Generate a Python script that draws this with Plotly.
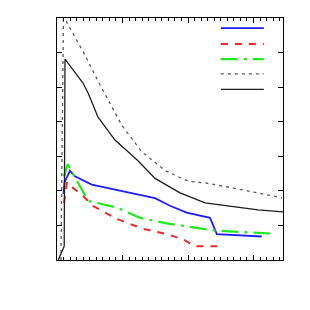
import plotly.graph_objects as go

# ---- data ----
blue_x = [0.099, 0.115, 0.198, 0.275, 0.53, 0.988, 1.496, 1.725, 1.98, 2.336, 2.44, 3.125]
blue_y = [1.91, 2.25, 2.58, 2.42, 2.18, 1.99, 1.79, 1.57, 1.37, 1.22, 0.75, 0.68]

red_x = [0.107, 0.153, 0.229, 0.40, 0.554, 0.911, 1.318, 1.70, 1.954, 2.107, 2.54]
red_y = [1.65, 2.25, 2.11, 1.85, 1.56, 1.19, 0.90, 0.74, 0.57, 0.40, 0.40]

green_x = [0.107, 0.163, 0.224, 0.478, 0.911, 1.267, 1.675, 2.056, 2.41, 3.33]
green_y = [2.42, 2.77, 2.56, 1.71, 1.52, 1.22, 1.06, 0.95, 0.85, 0.76]

gray_x = [0.06, 0.10, 0.148, 0.40, 0.656, 0.988, 1.293, 1.649, 2.0, 2.26, 2.667, 3.07, 3.435]
gray_y = [0.0, 7.3, 6.88, 6.02, 5.07, 3.90, 3.13, 2.59, 2.28, 2.23, 2.09, 1.94, 1.80]

black_x = [0.02, 0.11, 0.122, 0.397, 0.48, 0.626, 0.885, 1.237, 1.496, 1.878, 2.26, 2.67, 3.07, 3.45]
black_y = [0.0, 0.4, 5.81, 5.12, 4.81, 4.13, 3.47, 2.87, 2.36, 1.94, 1.65, 1.54, 1.45, 1.39]

series = [
    (blue_x, blue_y, "rgb(30,30,255)", "solid", 1.8, "legend"),
    (red_x, red_y, "rgb(240,40,40)", "7px,7px", 2.0, "legend2"),
    (green_x, green_y, "rgb(30,235,30)", "17px,6px,3px,6px", 2.2, "legend3"),
    (gray_x, gray_y, "rgb(90,90,90)", "3px,4px", 1.3, "legend4"),
    (black_x, black_y, "rgb(30,30,30)", "solid", 1.3, "legend5"),
]

fig = go.Figure()
for xs, ys, col, dash, w, lg in series:
    fig.add_trace(go.Scatter(x=xs, y=ys, mode="lines", name=" ",
                             line=dict(color=col, dash=dash, width=w),
                             legend=lg))

leg_y = [0.958, 0.893, 0.830, 0.769, 0.705]
leg_common = dict(x=0.703, xanchor="left", yanchor="middle", bgcolor="rgba(0,0,0,0)",
                  borderwidth=0, font=dict(size=10, color="white"), itemwidth=43)
fig.update_layout(
    legend=dict(y=leg_y[0], **leg_common),
    legend2=dict(y=leg_y[1], **leg_common),
    legend3=dict(y=leg_y[2], **leg_common),
    legend4=dict(y=leg_y[3], **leg_common),
    legend5=dict(y=leg_y[4], **leg_common),
)

axis_common = dict(showline=True, linecolor="black", linewidth=1, mirror="ticks",
                   ticks="inside", ticklen=5, tickcolor="black", showgrid=False,
                   zeroline=False, showticklabels=False)
fig.update_xaxes(range=[0, 3.45], dtick=1, tick0=0,
                 minor=dict(dtick=0.1, ticks="inside", ticklen=3, tickcolor="black", showgrid=False),
                 **axis_common)
fig.update_yaxes(range=[0, 7], dtick=1, tick0=0, **axis_common)

fig.update_layout(width=302, height=302, margin=dict(l=49, r=27, t=6, b=50),
                  plot_bgcolor="white", paper_bgcolor="white", showlegend=True)
fig.write_html("out.html")
